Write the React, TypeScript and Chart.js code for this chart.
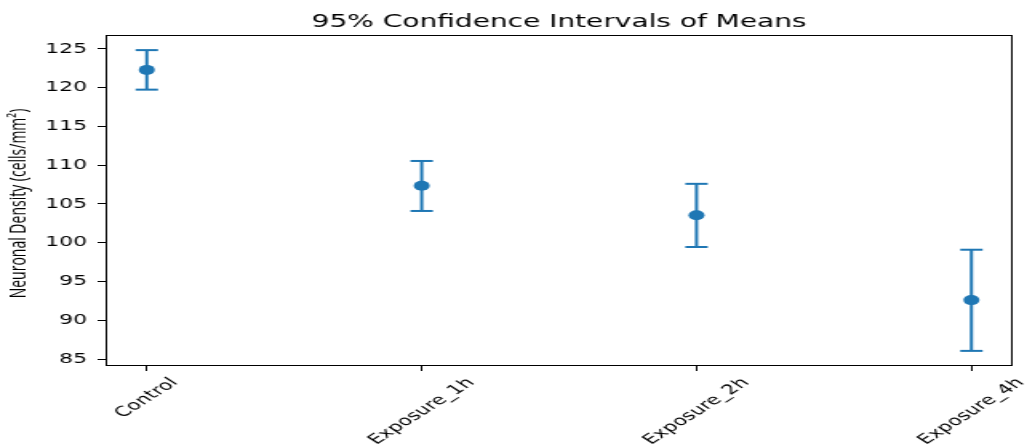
import React, { useEffect, useRef } from 'react';
import { Chart, registerables } from 'chart.js';

Chart.register(...registerables);

const categories = ['Control', 'Exposure_1h', 'Exposure_2h', 'Exposure_4h'];
const means = [122.3, 107.35, 103.55, 92.6];
const lowerCI = [119.75, 104.1, 99.45, 86.05];
const upperCI = [124.85, 110.55, 107.6, 99.1];
const yTicks = [85, 90, 95, 100, 105, 110, 115, 120, 125];
const titleText = '95% Confidence Intervals of Means';
const yLabelText = 'Neuronal Density (cells/mm²)';

const BLUE = '#1f77b4';
const CANVAS_W = 642;
const CANVAS_H = 444;
const DISPLAY_W = 1027;

const textPlugin = {
  id: 'mplText',
  beforeDatasetsDraw(chart: any) {
    const { ctx, chartArea: ca } = chart;
    ctx.save();
    ctx.strokeStyle = '#000';
    ctx.lineWidth = 1;
    ctx.strokeRect(Math.round(ca.left) + 0.5, Math.round(ca.top) + 0.5, Math.round(ca.right - ca.left) - 1, Math.round(ca.bottom - ca.top) - 1);
    ctx.restore();
  },
  afterDraw(chart: any) {
    const { ctx, chartArea: ca, scales } = chart;
    ctx.save();
    ctx.fillStyle = '#000';
    ctx.textAlign = 'center';
    ctx.textBaseline = 'middle';
    ctx.font = '17.5px "DejaVu Sans"';
    ctx.fillText(titleText, (ca.left + ca.right) / 2, 22);

    ctx.save();
    ctx.translate(12.5, (ca.top + ca.bottom) / 2 + 3);
    ctx.rotate(-Math.PI / 2);
    ctx.font = '14px "Open Sans"';
    ctx.fillText(yLabelText, 0, 0);
    ctx.restore();

    const xs = scales.x;
    ctx.font = '13.7px "DejaVu Sans"';
    categories.forEach((c, i) => {
      const px = xs.getPixelForValue(i);
      const w = ctx.measureText(c).width;
      const h = 16;
      const H = (w + h) * Math.SQRT1_2;
      const cy = ca.bottom + 9 + H / 2;
      ctx.save();
      ctx.translate(px, cy);
      ctx.rotate(-Math.PI / 4);
      ctx.fillText(c, 0, 0);
      ctx.restore();
    });
    ctx.restore();
  },
};

export default function App() {
  const ref = useRef<HTMLCanvasElement | null>(null);

  useEffect(() => {
    document.body.style.margin = '0';
    const canvas = ref.current;
    if (!canvas) return;

    const meanData = means.map((m, i) => ({ x: i, y: m }));
    const errDatasets = categories.map((_, i) => ({
      type: 'scatter' as const,
      data: [
        { x: i, y: lowerCI[i] },
        { x: i, y: upperCI[i] },
      ],
      showLine: true,
      borderColor: BLUE,
      borderWidth: 2,
      pointStyle: 'line',
      pointRadius: 7,
      pointBorderWidth: 2,
      pointBorderColor: BLUE,
      pointBackgroundColor: BLUE,
    }));

    const chart = new Chart(canvas, {
      type: 'scatter',
      data: {
        datasets: [
          {
            data: meanData,
            pointRadius: 5,
            pointBackgroundColor: BLUE,
            pointBorderColor: BLUE,
            pointBorderWidth: 0,
            showLine: false,
          } as any,
          ...(errDatasets as any[]),
        ],
      },
      options: {
        animation: false,
        responsive: false,
        events: [],
        layout: { padding: { top: 35, right: 7.5, left: 0, bottom: 0 } },
        plugins: {
          legend: { display: false },
          tooltip: { enabled: false },
          title: { display: false },
        },
        scales: {
          x: {
            type: 'linear',
            min: -0.15,
            max: 3.15,
            afterBuildTicks: (scale: any) => {
              scale.ticks = categories.map((_, i) => ({ value: i }));
            },
            afterFit: (scale: any) => {
              scale.height = CANVAS_H - 366;
            },
            ticks: { display: false },
            grid: {
              display: true,
              drawOnChartArea: false,
              drawTicks: true,
              tickLength: 5,
              color: '#000',
              lineWidth: 1,
            },
            border: { display: false },
          },
          y: {
            type: 'linear',
            min: 84.1,
            max: 126.8,
            afterBuildTicks: (scale: any) => {
              scale.ticks = yTicks.map((v) => ({ value: v }));
            },
            afterFit: (scale: any) => {
              scale.width = 66;
            },
            ticks: {
              color: '#000',
              padding: 6.5,
              font: { family: '"DejaVu Sans"', size: 13.7 },
            },
            grid: {
              display: true,
              drawOnChartArea: false,
              drawTicks: true,
              tickLength: 5,
              color: '#000',
              lineWidth: 1,
            },
            border: { display: false },
          },
        },
      } as any,
      plugins: [textPlugin],
    });

    return () => {
      chart.destroy();
    };
  }, []);

  return (
    <canvas
      ref={ref}
      width={CANVAS_W}
      height={CANVAS_H}
      style={{ width: `${DISPLAY_W}px`, height: `${CANVAS_H}px`, display: 'block' }}
    />
  );
}
